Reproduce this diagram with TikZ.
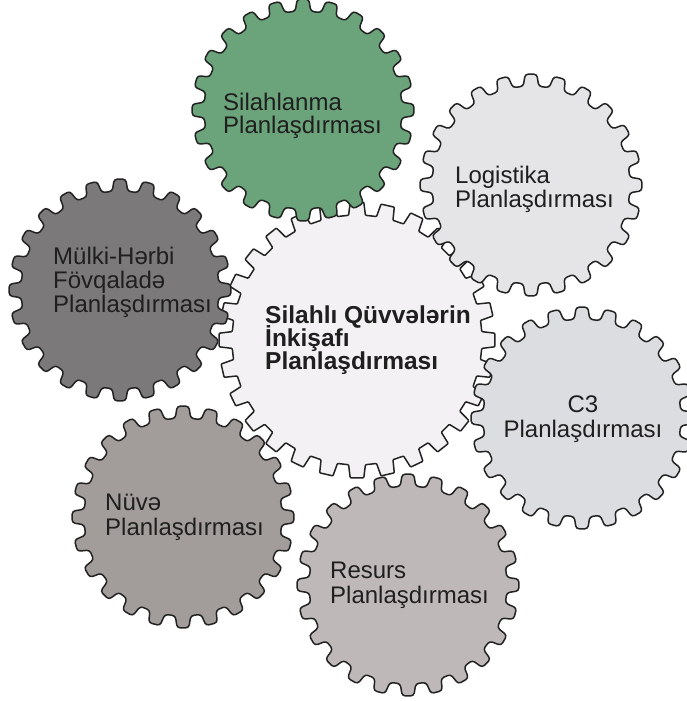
\documentclass[tikz,border=0pt]{standalone}
\usepackage{fontspec}
\setmainfont{Liberation Sans}
\definecolor{gearGreen}{RGB}{107,163,122}
\definecolor{gearLogi}{RGB}{229,229,231}
\definecolor{gearCivil}{RGB}{123,121,121}
\definecolor{gearHub}{RGB}{243,241,243}
\definecolor{gearCthree}{RGB}{220,221,224}
\definecolor{gearNuke}{RGB}{162,157,155}
\definecolor{gearRes}{RGB}{191,184,184}
\definecolor{gearEdge}{RGB}{35,35,35}

% Toothed wheel: centre x, centre y, teeth, root radius, tip radius,
% phase (deg), fill colour, corner rounding.  \toothroot and \toothtip give
% the half widths of a tooth at root and tip as fractions of the pitch angle.
\newcommand\toothroot{0.3}
\newcommand\toothtip{0.2}
\newcommand\cog[8]{%
  \begin{scope}[shift={(#1,#2)}]
    \pgfmathsetmacro\gp{360/#3}
    \path[gearline, fill=#7, rounded corners=#8]
      ({#6-0.5*\gp}:#4)
      \foreach \k in {1,...,#3} {
        -- ({#6+(\k-1)*\gp-\toothroot*\gp}:#4)
        -- ({#6+(\k-1)*\gp-\toothtip*\gp}:#5)
        -- ({#6+(\k-1)*\gp+\toothtip*\gp}:#5)
        -- ({#6+(\k-1)*\gp+\toothroot*\gp}:#4)
      } -- cycle;
  \end{scope}}

\begin{document}
\begin{tikzpicture}[x=1pt,y=-1pt,
  gearline/.style={draw=gearEdge, line width=1.5pt, line join=round},
  lbl/.style={font=\fontsize{24}{25}\selectfont, text=black!88, inner sep=0pt, anchor=base west},
  hub/.style={lbl, font=\fontsize{24.5}{25}\selectfont\bfseries}]
\useasboundingbox[fill=white] (0,0) rectangle (687,701);

% central wheel
\renewcommand\toothroot{0.3}\renewcommand\toothtip{0.22}
\cog{357}{340}{28}{125}{138}{0}{gearHub}{0.8pt}

% surrounding wheels
\renewcommand\toothroot{0.3}\renewcommand\toothtip{0.2}
\cog{303}{110}{24}{99}{111}{0}{gearGreen}{3pt}
\cog{531}{185}{24}{99}{111}{0}{gearLogi}{3pt}
\cog{120}{290}{24}{99}{111}{0}{gearCivil}{3pt}
\cog{582}{418}{24}{99}{111}{0}{gearCthree}{3pt}
\cog{183}{517}{24}{99}{111}{0}{gearNuke}{3pt}
\cog{408}{585}{24}{99}{111}{0}{gearRes}{3pt}

% labels
\node[hub] (hubA) at (265,323) {Silahlı Qüvvələrin};
\node[hub] (hubB) at (265,346) {İnkişafı};
\node[hub] (hubC) at (265,369) {Planlaşdırması};

\node[lbl] (armA) at (223,110) {Silahlanma};
\node[lbl] (armB) at (223,133) {Planlaşdırması};

\node[lbl] (logA) at (455,183) {Logistika};
\node[lbl] (logB) at (455,207) {Planlaşdırması};

\node[lbl] (civA) at (53,264) {Mülki-Hərbi};
\node[lbl] (civB) at (53,288) {Fövqaladə};
\node[lbl] (civC) at (53,312) {Planlaşdırması};

\node[lbl, anchor=base] (ccA) at (583,412) {C3};
\node[lbl, anchor=base] (ccB) at (583,437) {Planlaşdırması};

\node[lbl] (nukA) at (105,510) {Nüvə};
\node[lbl] (nukB) at (105,535) {Planlaşdırması};

\node[lbl] (resA) at (330,578) {Resurs};
\node[lbl] (resB) at (330,603) {Planlaşdırması};
\end{tikzpicture}
\end{document}
